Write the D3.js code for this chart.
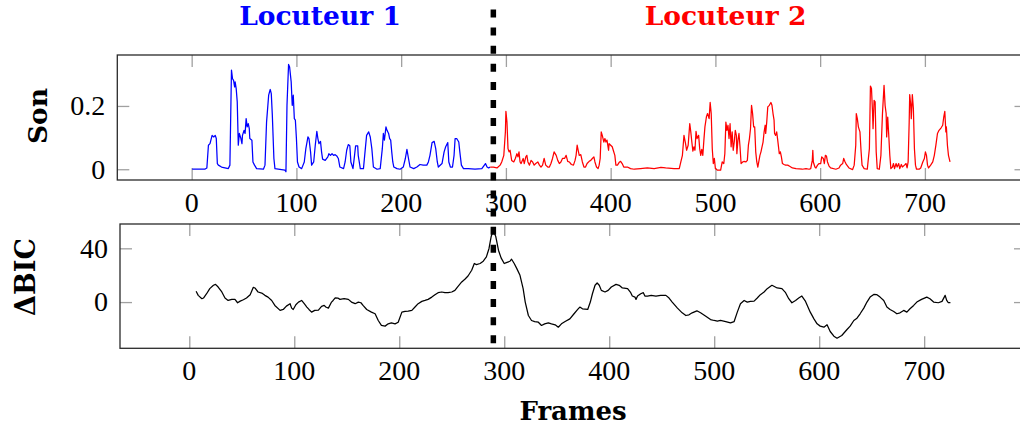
<!DOCTYPE html>
<html>
<head>
<meta charset="utf-8">
<script src="https://cdn.jsdelivr.net/npm/d3@7"></script>
<style>
html,body{margin:0;padding:0;background:#fff;}
svg{display:block;}
</style>
</head>
<body>
<svg id="chart" width="1020" height="430"></svg>
<script>
// ---------------- DATA ----------------
const xTickValues = [0, 100, 200, 300, 400, 500, 600, 700];
const sonTickValues = [0, 0.2];
const bicTickValues = [0, 40];
const titleLabels = ["Locuteur 1", "Locuteur 2"];
const changePointFrame = 288;

// Speaker 1 (blue) signal
const son1Frames = [0.5,12.5,14.5,16,17.5,19.5,21,22.5,23.5,24.5,25.5,28.5,35,36.5,38,39,40,41,41.5,42.5,43.5,44.5,45.5,47,48,48.5,50,51,52,53,54,55,55.5,57.5,58.5,60,62,68.5,70,71.5,73.5,75,76,77,78.5,79.5,89,90,91,92.5,93.5,95,96,97,98,99,100,101,102.5,105,107.5,109,111,112,113.5,114.5,116.5,118,119.5,120.5,121.5,123,124,125,127.5,130,131,132.5,134,135.5,137,138.5,140,141.5,145,146.5,148,149.5,151,152,154,155.5,156.5,158.5,159,161,164,165.5,167,169,170.5,172,173.5,177,180,182,183,184,185.5,186.5,188,189,190,191,192,193,196,199,202,204,205.5,207,208.5,212,215,218,221,224.5,226,227.5,229.5,231.5,233,234.5,235.5,239,241,242.5,244.5,245.5,247,249,250.5,251.5,253,255,256,257.5,259.5,264,270.5,277,280.5,282,283.5,285];
const son1Values = [0,0,0.004,0.076,0.081,0.107,0.102,0.107,0.097,0.018,0.013,0.007,0.002,0.013,0.313,0.286,0.281,0.26,0.276,0.255,0.213,0.076,0.113,0.097,0.081,0.107,0.123,0.113,0.16,0.134,0.144,0.128,0.097,0.092,0.023,0.013,0.002,0,0.013,0.149,0.234,0.252,0.239,0.171,0.034,0.002,-0.003,-0.008,0.202,0.331,0.323,0.276,0.202,0.234,0.16,0.155,0.097,0.023,0.007,0.002,0.023,0.065,0.102,0.097,0.055,0.013,0.023,0.076,0.12,0.097,0.081,0.088,0.055,0.032,0.028,0.039,0.049,0.044,0.049,0.044,0.046,0.042,0.034,0.007,0.002,0.023,0.06,0.078,0.074,0.023,0.002,0.044,0.074,0.074,0.044,0.002,0.002,0.055,0.107,0.118,0.102,0.065,0.007,0,0.002,0.065,0.113,0.092,0.134,0.123,0.113,0.097,0.092,0.055,0.023,0.007,0.002,0,0.007,0.034,0.063,0.034,0.007,0.002,0.007,0.015,0.013,0.013,0.023,0.044,0.084,0.088,0.065,0.023,0.007,0.018,0.055,0.071,0.084,0.023,0.007,0.007,0.044,0.097,0.097,0.086,0.055,0.013,0.002,0.002,0,0.002,0.018,0.007,0.004,0.007];

// Speaker 2 (red) signal
const son2Frames = [285,288,291.5,294.5,296,298,299.5,300,301,302,303,304,305.5,307.5,309,310.5,311.5,312.5,313.5,314.5,316.5,317.5,319,320,321,322.5,324,325.5,327,328.5,330.5,332,333.5,335,336.5,338,340,341.5,343,344.5,346,348,349.5,351,352.5,354,356,357.5,359,360.5,362.5,364.5,366,367,368,369,370,371.5,373,374.5,376,377.5,379.5,381,382.5,384,385,386.5,388,389,390,391,392,393.5,394.5,395.5,396.5,398,398.5,400,401.5,402.5,404,405,406.5,408,409.5,411,412.5,416,419,422.5,428.5,435,441.5,448,452.5,460.5,465.5,467,468.5,470,471.5,472.5,474,475.5,476.5,477.5,478.5,479.5,480.5,481.5,482.5,484,485,486,487,488,489,490,491.5,492.5,494,495,496,497,498,499,500,502,505,506.5,508,509,510,511,512,513,514,515,516,517,518,519,520,520.5,521.5,522.5,523.5,524.5,526,527.5,529,530.5,531.5,532.5,533.5,534.5,535.5,536.5,537.5,538.5,539.5,540.5,542.5,543.5,544.5,545.5,546.5,547.5,548,549,550,551.5,553,554,555,556,556.5,557.5,558.5,559.5,561,562,563,564,565.5,567,569,570.5,573.5,577,583,586.5,589.5,591,592.5,593,593.5,595,596,597.5,599,600.5,601.5,603,604,605,606,607,608.5,610,615,618,619.5,621.5,622.5,623.5,625,627.5,631,632.5,634,634.5,635.5,636.5,638,639,640,642,645,647,648,649,650,650.5,651.5,652.5,653.5,654.5,656.5,658,659.5,661,662,663,663.5,664.5,665.5,666.5,667.5,669,670,671,672.5,673.5,675,676,677.5,678.5,680.5,682,683,684,685,685.5,686.5,687,688,689,690,691,692,694.5,696,698,699.5,700.5,701.5,702.5,703.5,705.5,707.5,709,710.5,712,713.5,715.5,717,718,719,720,720.5,721.5,722.5,724];
const son2Values = [0.007,0.007,0.004,0.013,0.023,0.044,0.118,0.183,0.149,0.065,0.055,0.06,0.028,0.023,0.034,0.049,0.039,0.055,0.023,0.018,0.034,0.018,0.039,0.044,0.023,0.013,0.028,0.023,0.013,0.018,0.023,0.013,0.007,0.013,0.034,0.013,0.007,0.007,0.018,0.034,0.055,0.044,0.028,0.018,0.023,0.034,0.034,0.044,0.025,0.023,0.015,0.013,0.028,0.044,0.076,0.06,0.044,0.046,0.023,0.007,0.007,0.018,0.025,0.028,0.034,0.039,0.023,0.007,0.002,0.013,0.034,0.118,0.107,0.086,0.097,0.086,0.092,0.06,0.081,0.076,0.071,0.06,0.044,0.013,0.013,0.021,0.025,0.018,0.007,0.007,0.002,0,0.002,0.004,0.002,0.006,0.004,0.002,0.002,0.023,0.044,0.107,0.081,0.06,0.076,0.144,0.118,0.086,0.057,0.071,0.06,0.12,0.097,0.107,0.065,0.044,0.063,0.044,0.092,0.134,0.167,0.176,0.16,0.211,0.176,0.065,0.018,0.034,0.002,-0.003,-0.003,0.023,0.018,0.049,0.149,0.123,0.139,0.097,0.144,0.071,0.118,0.06,0.086,0.123,0.107,0.049,0.092,0.113,0.071,0.018,0.023,0.025,0.023,0.028,0.076,0.097,0.128,0.202,0.176,0.134,0.134,0.055,0.023,0.007,0.044,0.055,0.071,0.086,0.118,0.139,0.113,0.149,0.197,0.202,0.211,0.202,0.176,0.155,0.113,0.107,0.118,0.092,0.049,0.055,0.039,0.018,0.015,0.013,0.013,0.01,0.004,0.002,0,0.002,0,0.002,0.028,0.06,0.023,0.007,0.004,0.013,0.018,0.018,0.039,0.034,0.018,0.044,0.042,0.023,0.01,0.004,0,0.004,0.013,0.018,0.034,0.025,0.015,0.004,-0.001,0.013,0.076,0.176,0.16,0.134,0.118,0.06,0.013,0.002,0,0.065,0.263,0.255,0.181,0.128,0.218,0.213,0.055,0.002,0,0.044,0.176,0.265,0.202,0.176,0.102,0.165,0.107,0.044,0.002,0.007,0.018,0.002,0.018,0.007,0.018,0.002,0.015,0.007,0.013,0.018,0.004,0.023,0.149,0.236,0.202,0.16,0.236,0.192,0.065,0.013,0,0,0.004,0.023,0.034,0.055,0.044,0.013,0.004,0.013,0.023,0.044,0.076,0.113,0.123,0.131,0.139,0.165,0.183,0.118,0.134,0.076,0.044,0.023];

// Delta BIC curve
const bicFrames = [6.5,8.5,12,13.5,16.5,19.5,23,25,27.5,31,34,37,40.5,43.5,46,48.5,51.5,54.5,58,61,62.5,65.5,69,72,75,78.5,81.5,86.5,89.5,92.5,96,97.5,99,101.5,104,107,109.5,112,114,116.5,119.5,123,126,128.5,130,132.5,135.5,137,139,141.5,143.5,147.5,151.5,154.5,158,161,163.5,165.5,169,173.5,177,180,183,186.5,189.5,192.5,196,199,202.5,205.5,208.5,212,215,218,221.5,224.5,227.5,231,234,237,240.5,243.5,246.5,250,253,256,259.5,262.5,265.5,269,271.5,273.5,277,280,283,285.5,287.5,289.5,292,294.5,297,300,302,305.5,307,309.5,312,315,318,320,323,326,329,332.5,335.5,338.5,342,345,348.5,351.5,354.5,358,362.5,366.5,370,372,374.5,379.5,382,384,386.5,388.5,390.5,392.5,396,399,402,406.5,409.5,412.5,417.5,420.5,422,424.5,425.5,427,430,432.5,434,436.5,440,444.5,449,454,457,460,465,469.5,473,476,479,483.5,487,492,496.5,500,503,506,511,515.5,519,522,525,528.5,531.5,534.5,538,541,544,547.5,550.5,555,560,564.5,568,571,574,577.5,580.5,583.5,587,591.5,595,598,601,604.5,607.5,610.5,614,617,621.5,626.5,629.5,633,636,639,642.5,645.5,648.5,652,655,658,661.5,664.5,667.5,671,674,677,680.5,683.5,686.5,690,693,697.5,702.5,705.5,709,713.5,717,720,721.5,723,725];
const bicValues = [8,5,2.5,3,6.2,10,12.5,13.2,11.2,7.5,3,1.2,2,2,-0.5,0.7,1.7,3,5.5,11,10.5,7.5,6.7,5,3.7,1.2,-2.5,-6.2,-5.5,-3,-1.2,-4.5,-5.5,-2,0,1.2,-1.2,-3.7,-5.5,-7.5,-6.2,-6,-3.2,-2.5,-3.7,-4.5,0,1.2,3.2,3,2,2.5,2,0,-1.2,0,-0.5,-2.5,-5.5,-7.5,-8.7,-13.7,-17.4,-17.9,-16.2,-15.5,-16.2,-15,-7.5,-7,-6.7,-6.2,-3.7,-1.2,0.5,1.2,2,3.7,5.5,7,7.5,7,7,7.5,8.7,11.7,15,17,19.4,23.7,28.7,27.9,28.7,30.4,33.6,39.9,48.6,53.6,48.6,38.6,32.9,28.7,29.4,30.4,31.9,28.7,24.9,19.9,10,0,-10,-13.7,-14.5,-15,-17.4,-16.2,-15.5,-16.2,-16.9,-18.7,-16.2,-14.5,-12.5,-8.7,-5.5,-3.7,-5,-5.5,0,6.2,12.5,14.2,12.5,8.7,7.5,8.7,11.2,13.2,12.5,10.5,10,7,4.5,3.7,2,4.5,6.2,7,4.5,4.5,5,4.5,5,5,3,0,-4.5,-8,-10,-9.5,-8,-6.5,-8,-10.5,-13,-13.7,-14.2,-13.7,-14.5,-15.5,-14.5,-7.5,-1.2,1.2,0,0.5,0.7,3,5.5,7.5,10,12.5,10.5,10,7,2.5,-0.5,1.2,3,4.5,0.5,-7.5,-12.5,-16.2,-17.9,-18.7,-16.9,-21.9,-25.4,-26.9,-24.9,-20.4,-17.9,-13.7,-12,-8.7,-4.5,0,3.7,5.7,5.5,3.7,1.2,-3.7,-5.5,-7,-8.7,-8,-6.2,-7.5,-5,-2.5,0,2,3.7,2.5,0,-0.5,0.5,5,1.2,-0.5,-0.5];

// ---------------- LAYOUT ----------------
const svg = d3.select("#chart");
const tickFont = "'Liberation Serif', 'Times New Roman', serif";
const boldFont = "'DejaVu Serif', serif";

const topPanel = {left: 117.3, right: 1026.5, top: 55, bottom: 180};
const botPanel = {left: 120, right: 1026, top: 224, bottom: 348.3};

const xTop = d3.scaleLinear().domain([-71, 797]).range([topPanel.left, topPanel.right]);
const yTop = d3.scaleLinear().domain([-0.034, 0.361]).range([topPanel.bottom, topPanel.top]);
const xBot = d3.scaleLinear().domain([-66, 797]).range([botPanel.left, botPanel.right]);
const yBot = d3.scaleLinear().domain([-34.4, 58.1]).range([botPanel.bottom, botPanel.top]);

const tickLen = 12;
const tickColor = "#a0a0a0";
const frameColor = "#2a2a2a";

function drawPanel(p, xs, ys, yTicks, yFmt) {
  const g = svg.append("g");
  const w = p.right - p.left, h = p.bottom - p.top;
  const axB = d3.axisBottom(xs).tickValues(xTickValues).tickSize(-tickLen).tickFormat("");
  const axT = d3.axisTop(xs).tickValues(xTickValues).tickSize(-tickLen).tickFormat("");
  const axL = d3.axisLeft(ys).tickValues(yTicks).tickSize(-tickLen).tickFormat("");
  const axR = d3.axisRight(ys).tickValues(yTicks).tickSize(-tickLen).tickFormat("");
  [[axB, `translate(0,${p.bottom})`], [axT, `translate(0,${p.top})`],
   [axL, `translate(${p.left},0)`], [axR, `translate(${p.right},0)`]].forEach(([ax, tr]) => {
    const a = g.append("g").attr("transform", tr).call(ax);
    a.select(".domain").remove();
    a.selectAll(".tick line").attr("stroke", tickColor).attr("stroke-width", 1.3);
  });
  g.append("rect").attr("x", p.left).attr("y", p.top).attr("width", w).attr("height", h)
    .attr("fill", "none").attr("stroke", frameColor).attr("stroke-width", 1.3);
  g.selectAll("text.xl").data(xTickValues).enter().append("text")
    .attr("x", d => xs(d)).attr("y", p.bottom + 31.5)
    .attr("text-anchor", "middle").attr("font-family", tickFont).attr("font-size", 28)
    .attr("fill", "#000").text(d => d);
  g.selectAll("text.yl").data(yTicks).enter().append("text")
    .attr("x", p.left - 12).attr("y", d => ys(d) + 9.3)
    .attr("text-anchor", "end").attr("font-family", tickFont).attr("font-size", 28)
    .attr("fill", "#000").text(yFmt);
  return g;
}

drawPanel(topPanel, xTop, yTop, sonTickValues, d => d === 0 ? "0" : d3.format(".1f")(d));
drawPanel(botPanel, xBot, yBot, bicTickValues, d => d);

const sonLine = d3.line().x(d => xTop(d[0])).y(d => yTop(d[1]));
const bicLine = d3.line().x(d => xBot(d[0])).y(d => yBot(d[1]));

svg.append("path").datum(d3.zip(son1Frames, son1Values)).attr("d", sonLine)
  .attr("fill", "none").attr("stroke", "#0000ff").attr("stroke-width", 1.25).attr("stroke-linejoin", "round");
svg.append("path").datum(d3.zip(son2Frames, son2Values)).attr("d", sonLine)
  .attr("fill", "none").attr("stroke", "#ff0000").attr("stroke-width", 1.25).attr("stroke-linejoin", "round");
svg.append("path").datum(d3.zip(bicFrames, bicValues)).attr("d", bicLine)
  .attr("fill", "none").attr("stroke", "#000").attr("stroke-width", 1.25).attr("stroke-linejoin", "round");

svg.append("line")
  .attr("x1", xTop(changePointFrame)).attr("x2", xTop(changePointFrame))
  .attr("y1", 9.5).attr("y2", 345.5)
  .attr("stroke", "#000").attr("stroke-width", 5.5).attr("stroke-dasharray", "8,10.1");

svg.append("text").attr("x", 320).attr("y", 25).attr("text-anchor", "middle")
  .attr("font-family", boldFont).attr("font-weight", "bold").attr("font-size", 26.5)
  .attr("fill", "#0000ff").text(titleLabels[0]);
svg.append("text").attr("x", 725.5).attr("y", 25).attr("text-anchor", "middle")
  .attr("font-family", boldFont).attr("font-weight", "bold").attr("font-size", 26.5)
  .attr("fill", "#ff0000").text(titleLabels[1]);

svg.append("text").attr("transform", `translate(47,116) rotate(-90)`)
  .attr("text-anchor", "middle").attr("font-family", boldFont).attr("font-weight", "bold")
  .attr("font-size", 26.5).attr("fill", "#000").text("Son");
svg.append("text").attr("transform", `translate(35,277) rotate(-90)`)
  .attr("text-anchor", "middle").attr("font-family", boldFont).attr("font-weight", "bold")
  .attr("font-size", 27).attr("fill", "#000").text("ΔBIC");
svg.append("text").attr("x", (botPanel.left + botPanel.right) / 2).attr("y", 420)
  .attr("text-anchor", "middle").attr("font-family", boldFont).attr("font-weight", "bold")
  .attr("font-size", 26).attr("fill", "#000").text("Frames");
</script>
</body>
</html>
